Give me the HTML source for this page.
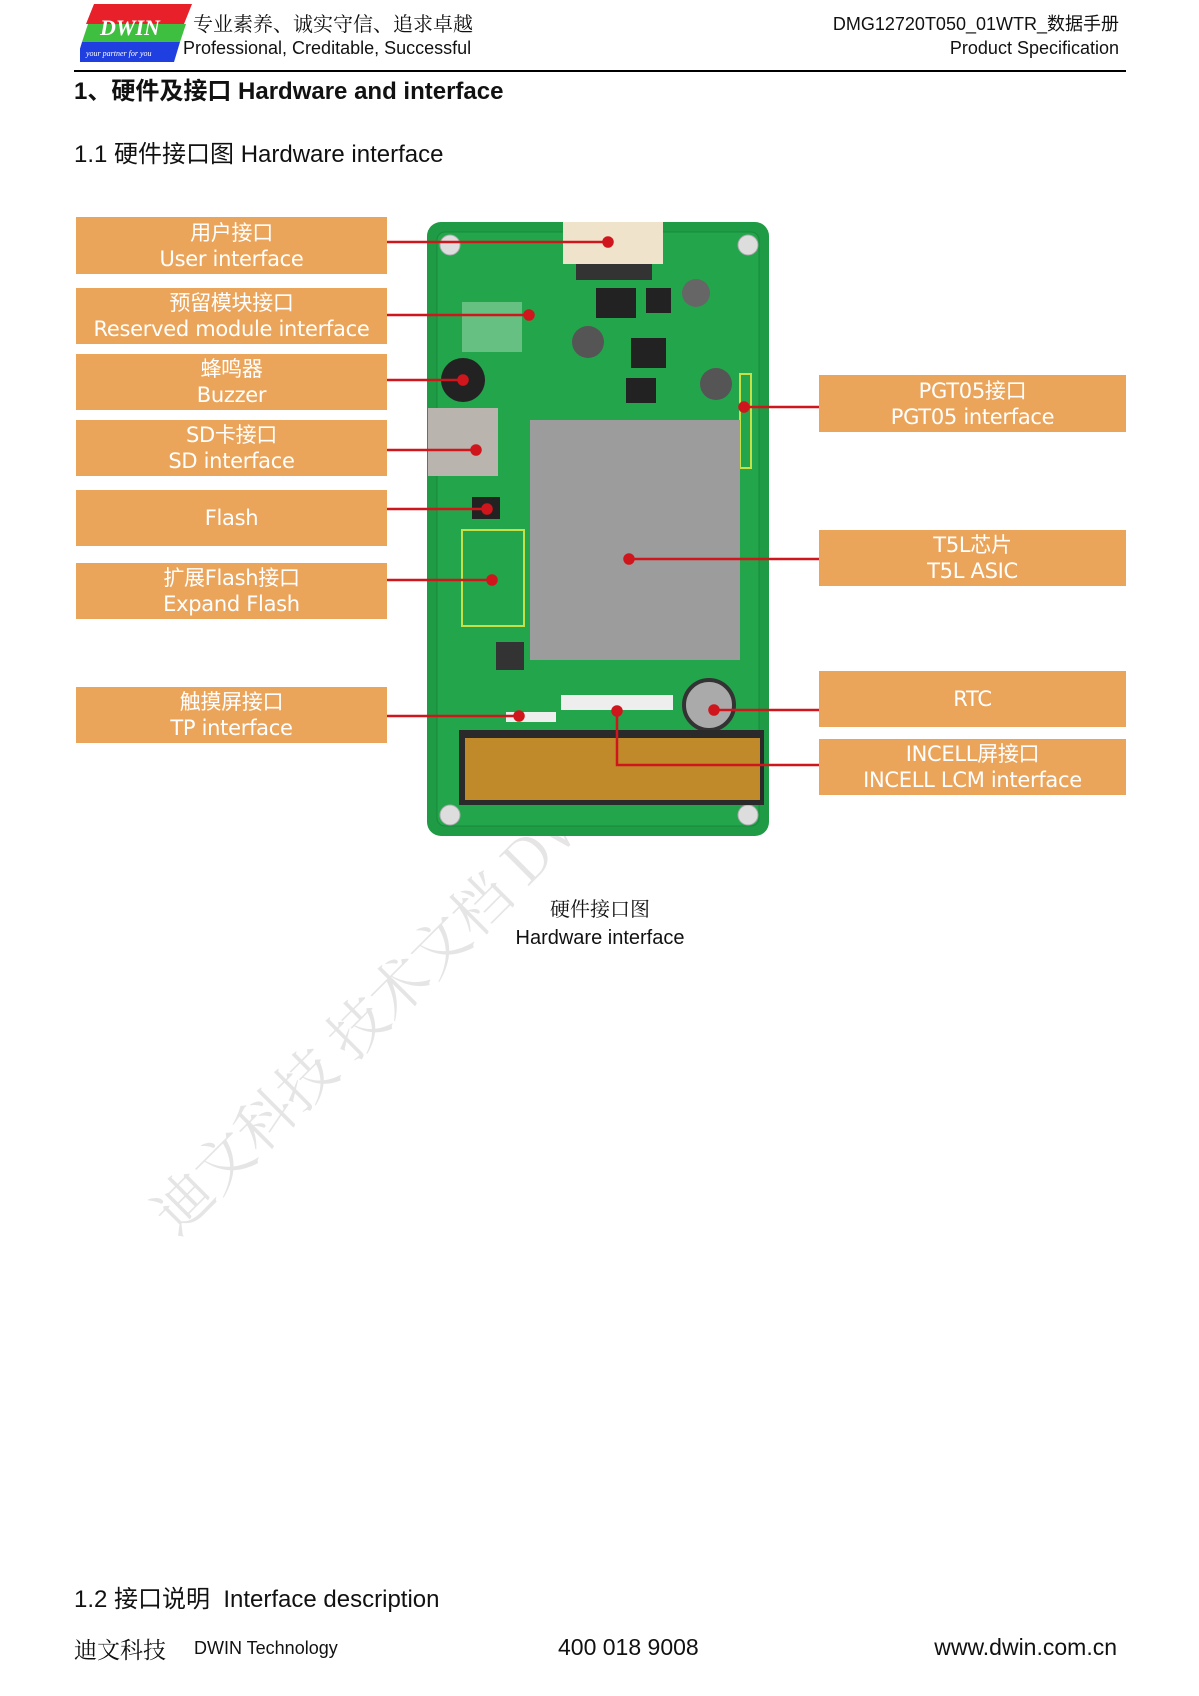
<!DOCTYPE html>
<html><head><meta charset="utf-8"><style>
body{margin:0;background:#fff;}
#p{position:relative;width:1199px;height:1696px;overflow:hidden;font-family:"Liberation Sans","Noto Sans CJK SC",sans-serif;color:#111;}
.t{position:absolute;white-space:nowrap;}
.b{position:absolute;background:#EBA55B;color:#fff;text-align:center;font-size:21px;line-height:26px;display:flex;flex-direction:column;justify-content:center;font-family:"DejaVu Sans","Noto Sans CJK SC",sans-serif;letter-spacing:-0.3px;}
</style></head><body><div id="p">
<svg class="t" style="left:80px;top:4px" width="112" height="58">
<polygon points="14,0 112,0 104,20 6,20" fill="#e8202a"/>
<polygon points="8,20 106,20 100,38 2,38" fill="#3fbf3f"/>
<polygon points="2,38 100,38 94,58 -4,58" fill="#1f3fe0"/>
<text x="20" y="31" font-family="Liberation Serif" font-style="italic" font-weight="bold" font-size="22" fill="#fff">DWIN</text>
<text x="6" y="52" font-family="Liberation Serif" font-style="italic" font-size="8" fill="#fff">your partner for you</text>
</svg>
<div class="t" style="left:193px;top:8px;font-size:20px;font-family:'Noto Serif CJK SC',serif">专业素养、诚实守信、追求卓越</div>
<div class="t" style="left:183px;top:38px;font-size:18px">Professional, Creditable, Successful</div>
<div class="t" style="right:80px;top:10px;font-size:18px">DMG12720T050_01WTR_数据手册</div>
<div class="t" style="right:80px;top:38px;font-size:18px">Product Specification</div>
<div class="t" style="left:74px;top:70px;width:1052px;height:1.5px;background:#000"></div>
<div class="t" style="left:74px;top:71px;font-size:24px;font-weight:bold">1、硬件及接口 Hardware and interface</div>
<div class="t" style="left:74px;top:134px;font-size:24px">1.1 硬件接口图 Hardware interface</div>

<div class="t" style="left:130px;top:1190px;font-size:58px;color:rgba(0,0,0,0.10);transform:rotate(-45deg);transform-origin:0 0;font-family:'Noto Serif CJK SC',serif">迪文科技 技术文档 DWIN</div>

<svg class="t" style="left:0;top:0" width="1199" height="1000">
<rect x="427" y="222" width="342" height="614" rx="14" fill="#1f9a45"/>
<rect x="437" y="232" width="322" height="594" rx="8" fill="#23a54c" stroke="#178a3a"/>
<circle cx="450" cy="245" r="10" fill="#ddd" stroke="#aaa"/><circle cx="748" cy="245" r="10" fill="#ddd" stroke="#aaa"/>
<circle cx="450" cy="815" r="10" fill="#ddd" stroke="#aaa"/><circle cx="748" cy="815" r="10" fill="#ddd" stroke="#aaa"/>
<rect x="563" y="222" width="100" height="42" fill="#efe3cc"/>
<rect x="576" y="264" width="76" height="16" fill="#333"/>
<circle cx="463" cy="380" r="22" fill="#222"/>
<rect x="428" y="408" width="70" height="68" fill="#b9b4ad"/>
<rect x="462" y="302" width="60" height="50" fill="#fff" opacity="0.3"/>
<rect x="596" y="288" width="40" height="30" fill="#222"/><rect x="646" y="288" width="25" height="25" fill="#222"/>
<circle cx="588" cy="342" r="16" fill="#555"/><circle cx="696" cy="293" r="14" fill="#666"/><circle cx="716" cy="384" r="16" fill="#555"/>
<rect x="631" y="338" width="35" height="30" fill="#222"/><rect x="626" y="378" width="30" height="25" fill="#222"/>
<rect x="740" y="374" width="11" height="94" fill="none" stroke="#c6e04a" stroke-width="2"/>
<rect x="530" y="420" width="210" height="240" fill="#9c9c9c"/>
<rect x="472" y="497" width="28" height="22" fill="#222"/>
<rect x="462" y="530" width="62" height="96" fill="none" stroke="#c6e04a" stroke-width="2"/>
<rect x="496" y="642" width="28" height="28" fill="#333"/>
<circle cx="709" cy="705" r="25" fill="#aaa" stroke="#333" stroke-width="4"/>
<rect x="561" y="695" width="112" height="15" fill="#eee"/>
<rect x="506" y="712" width="50" height="10" fill="#eee"/>
<rect x="459" y="730" width="305" height="75" fill="#2a2a2a"/>
<rect x="465" y="738" width="295" height="62" fill="#c08a2a"/>
<g stroke="#d0161d" stroke-width="2.5" fill="#d0161d">
<line x1="387" y1="242" x2="608" y2="242"/><circle cx="608" cy="242" r="4.5"/>
<line x1="387" y1="315" x2="529" y2="315"/><circle cx="529" cy="315" r="4.5"/>
<line x1="387" y1="380" x2="463" y2="380"/><circle cx="463" cy="380" r="4.5"/>
<line x1="387" y1="450" x2="476" y2="450"/><circle cx="476" cy="450" r="4.5"/>
<line x1="387" y1="509" x2="487" y2="509"/><circle cx="487" cy="509" r="4.5"/>
<line x1="387" y1="580" x2="492" y2="580"/><circle cx="492" cy="580" r="4.5"/>
<line x1="387" y1="716" x2="519" y2="716"/><circle cx="519" cy="716" r="4.5"/>
<line x1="819" y1="407" x2="744" y2="407"/><circle cx="744" cy="407" r="4.5"/>
<line x1="819" y1="559" x2="629" y2="559"/><circle cx="629" cy="559" r="4.5"/>
<line x1="819" y1="710" x2="714" y2="710"/><circle cx="714" cy="710" r="4.5"/>
<polyline points="819,765 617,765 617,711" fill="none"/><circle cx="617" cy="711" r="4.5"/>
</g>
</svg>

<div class="b" style="left:76px;top:217px;width:311px;height:57px">用户接口<span>User interface</span></div>
<div class="b" style="left:76px;top:288px;width:311px;height:56px">预留模块接口<span>Reserved module interface</span></div>
<div class="b" style="left:76px;top:354px;width:311px;height:56px">蜂鸣器<span>Buzzer</span></div>
<div class="b" style="left:76px;top:420px;width:311px;height:56px">SD卡接口<span>SD interface</span></div>
<div class="b" style="left:76px;top:490px;width:311px;height:56px">Flash</div>
<div class="b" style="left:76px;top:563px;width:311px;height:56px">扩展Flash接口<span>Expand Flash</span></div>
<div class="b" style="left:76px;top:687px;width:311px;height:56px">触摸屏接口<span>TP interface</span></div>
<div class="b" style="left:819px;top:375px;width:307px;height:57px">PGT05接口<span>PGT05 interface</span></div>
<div class="b" style="left:819px;top:530px;width:307px;height:56px">T5L芯片<span>T5L ASIC</span></div>
<div class="b" style="left:819px;top:671px;width:307px;height:56px">RTC</div>
<div class="b" style="left:819px;top:739px;width:307px;height:56px">INCELL屏接口<span>INCELL LCM interface</span></div>

<div class="t" style="left:600px;top:893px;transform:translateX(-50%);font-size:20px;font-family:'Noto Serif CJK SC',serif">硬件接口图</div>
<div class="t" style="left:600px;top:927px;transform:translateX(-50%);font-size:20px">Hardware interface</div>
<div class="t" style="left:74px;top:1579px;font-size:24px">1.2 接口说明&nbsp; Interface description</div>
<div class="t" style="left:74px;top:1632px;font-size:23px;font-family:'Noto Serif CJK SC',serif">迪文科技</div>
<div class="t" style="left:194px;top:1638px;font-size:18px">DWIN Technology</div>
<div class="t" style="left:558px;top:1634px;font-size:23px">400 018 9008</div>
<div class="t" style="right:82px;top:1634px;font-size:23px">www.dwin.com.cn</div>
</div></body></html>
